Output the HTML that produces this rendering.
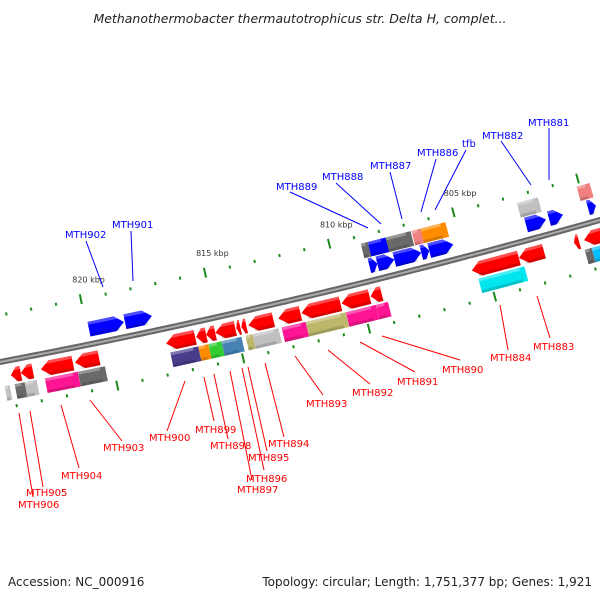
<!DOCTYPE html>
<html><head><meta charset="utf-8"><style>
html,body{margin:0;padding:0;background:#fff;}
svg{display:block;font-family:"DejaVu Sans","Liberation Sans",sans-serif;}
</style></head><body>
<svg id="map" width="600" height="600" viewBox="0 0 600 600">
<text x="300" y="23" text-anchor="middle" font-size="12.5" font-style="italic" fill="#222">Methanothermobacter thermautotrophicus str. Delta H, complet...</text>
<path id="backbone" fill="none" stroke="#666" stroke-width="6"></path>
<path id="backbone-hi" fill="none" stroke="#aaa" stroke-width="2"></path>
<g id="ticks"></g>
<g id="features"></g>
<g id="labels" font-size="10"></g>
<text x="8" y="586" font-size="12" fill="#222">Accession: NC_000916</text>
<text x="592" y="586" font-size="12" fill="#222" text-anchor="end">Topology: circular; Length: 1,751,377 bp; Genes: 1,921</text>
</svg>
<script>
// feature data (kbp)
const featStart = [822.88,822.4,820.8,819.76,815.92,815.48,815.12,814.32,814.12,813.88,812.8,811.72,810.12,808.96,808.48,803.0,802.0,800.6,799.6,
 823.4,822.8,822.32,820.68,819.6,815.88,815.48,814.96,814.16,813.72,812.68,811.6,810.0,808.8,808.32,802.88,800.2,799.6,
 818.52,817.4,808.36,807.68,806.6,806.28,805.32,801.6,800.92,799.6,
 808.52,807.8,806.8,806.4,805.4,801.68,799.6];
const featEnd = [823.28,822.88,822.08,820.72,817.08,815.88,815.48,815.12,814.28,814.08,813.8,812.6,811.68,810.08,808.92,804.88,803.0,800.8,800.4,
 823.6,823.2,822.8,822.0,820.68,817.0,815.88,815.48,814.96,814.0,813.72,812.56,811.6,810.0,808.8,804.72,800.48,800.2,
 819.92,818.48,808.68,808.36,807.68,806.6,806.28,802.4,801.48,799.92,
 808.8,808.52,807.8,806.76,806.4,802.52,800.12];
const featRow = [1,1,1,1,1,1,1,1,1,1,1,1,1,1,1,1,1,1,1,
 2,2,2,2,2,2,2,2,2,2,2,2,2,2,2,2,2,2,
 -1,-1,-1,-1,-1,-1,-1,-1,-1,-1,
 -2,-2,-2,-2,-2,-2,-2];
const featColor = ['red','red','red','red','red','red','red','red','red','red','red','red','red','red','red','red','red','red','red',
 '#c0c0c0','#696969','#c0c0c0','#ff1493','#696969','#483d8b','#ff8c00','#32cd32','#4682b4','#bdb76b','#c0c0c0','#ff1493','#bdb76b','#ff1493','#ff1493','#00e5ee','#696969','#00bfff',
 'blue','blue','blue','blue','blue','blue','blue','blue','blue','blue',
 '#696969','blue','#696969','#f08080','#ff8c00','#c0c0c0','#f08080'];
const tickKbp = [805,810,815,820];
const tickLabels = ['805 kbp','810 kbp','815 kbp','820 kbp'];
const labelText = ['MTH902','MTH901','MTH889','MTH888','MTH887','MTH886','tfb','MTH882','MTH881',
 'MTH906','MTH905','MTH904','MTH903','MTH900','MTH899','MTH898','MTH897','MTH896','MTH895','MTH894','MTH893','MTH892','MTH891','MTH890','MTH884','MTH883'];

const NS='http://www.w3.org/2000/svg';
function xOf(k){return (823.6-k)*25;}
function yOf(x){return 362-0.19*x-7.78e-5*x*x;}
function ang(x){return Math.atan(-0.19-2*7.78e-5*x);}
function pt(x,off){const a=ang(x);return [x-Math.sin(a)*off, yOf(x)+Math.cos(a)*off];}
function mk(t,attrs,parent){const e=document.createElementNS(NS,t);for(const k in attrs)e.setAttribute(k,attrs[k]);parent.appendChild(e);return e;}

let d='';for(let x=-10;x<=610;x+=5){d+=(x===-10?'M':'L')+x+','+yOf(x).toFixed(2)+' ';}
document.getElementById('backbone').setAttribute('d',d);
document.getElementById('backbone-hi').setAttribute('d',d);

const tg=document.getElementById('ticks');
for(let k=799;k<=824;k++){
  const x=xOf(k); const major=(k%5===0);
  [-46,46].forEach(function(off){
    const sh = off<0 ? 0 : 18;
    const xx=x+sh;
    const len=major?5:1.5;
    const p1=pt(xx,off-len), p2=pt(xx,off+len);
    const l=mk('line',{x1:p1[0],y1:p1[1],x2:p2[0],y2:p2[1],stroke:'#1a8a1a','stroke-width':2},tg);
    
    
  });
}
tickKbp.forEach(function(k,i){
  const x=xOf(k); const p=pt(x-5,-64);
  const t=mk('text',{x:p[0],y:p[1],'font-size':8,fill:'#333'},tg);
  t.textContent=tickLabels[i];
  
  
});

const fg=document.getElementById('features');
const rowOff={1:15,2:32,'-1':-15,'-2':-31};
for(let i=0;i<featStart.length;i++){
  const x1=xOf(featEnd[i]), x2=xOf(featStart[i]);
  const xm=(x1+x2)/2, a=ang(xm);
  const L=(x2-x1)/Math.cos(a);
  const off=rowOff[featRow[i]];
  const c=pt(xm,off);
  const g=mk('g',{transform:'translate('+c[0].toFixed(2)+','+c[1].toFixed(2)+') rotate('+(a*180/Math.PI).toFixed(2)+')'},fg);
  
  
  const h=15, hw=L/2, head=Math.min(9,L*0.6);
  let p;
  if(featRow[i]===1){
    p='M'+(-hw)+',0 L'+(-hw+head)+','+(-h/2)+' L'+hw+','+(-h/2)+' L'+hw+','+(h/2)+' L'+(-hw+head)+','+(h/2)+' Z';
  } else if(featRow[i]===-1){
    p='M'+hw+',0 L'+(hw-head)+','+(-h/2)+' L'+(-hw)+','+(-h/2)+' L'+(-hw)+','+(h/2)+' L'+(hw-head)+','+(h/2)+' Z';
  } else {
    p='M'+(-hw)+','+(-h/2)+' L'+hw+','+(-h/2)+' L'+hw+','+(h/2)+' L'+(-hw)+','+(h/2)+' Z';
  }
  mk('path',{d:p,fill:featColor[i]},g);
  mk('rect',{x:-hw+(featRow[i]===1?head*0.6:0),y:-h/2,width:Math.max(0,L-head*0.6),height:3,fill:'#fff',opacity:0.3},g);
  mk('rect',{x:-hw+(featRow[i]===1?head*0.6:0),y:h/2-3,width:Math.max(0,L-head*0.6),height:3,fill:'#000',opacity:0.15},g);
}

const lg=document.getElementById('labels');
const labelPos=[[65,238,103,287,86,241],[112,228,133,281,131,231],[276,190,368,228,290,192],[322,180,381,224,336,183],[370,169,402,219,390,172],[417,156,421,212,436,159],[462,147,435,210,466,150],[482,139,531,185,501,141],[528,126,549,180,549,128],
 [18,508,19,413,33,497],[26,496,30,411,43,487],[61,479,61,405,79,468],[103,451,90,400,122,441],[149,441,185,381,167,431],[195,433,204,377,214,421],[210,449,214,374,228,439],[237,493,230,371,252,480],[246,482,242,368,264,470],[248,461,248,367,267,451],[268,447,265,363,284,437],[306,407,295,356,323,395],[352,396,328,350,370,384],[397,385,360,342,415,372],[442,373,382,336,460,360],[490,361,500,305,508,350],[533,350,537,296,550,338]];
labelPos.forEach(function(q,i){
  const col=i<9?'blue':'red';
  const l=mk('line',{x1:q[2],y1:q[3],x2:q[4],y2:q[5],stroke:col,'stroke-width':1},lg);
  
  
  const t=mk('text',{x:q[0],y:q[1],fill:col},lg);
  t.textContent=labelText[i];
  
  
});
</script>
</body></html>
